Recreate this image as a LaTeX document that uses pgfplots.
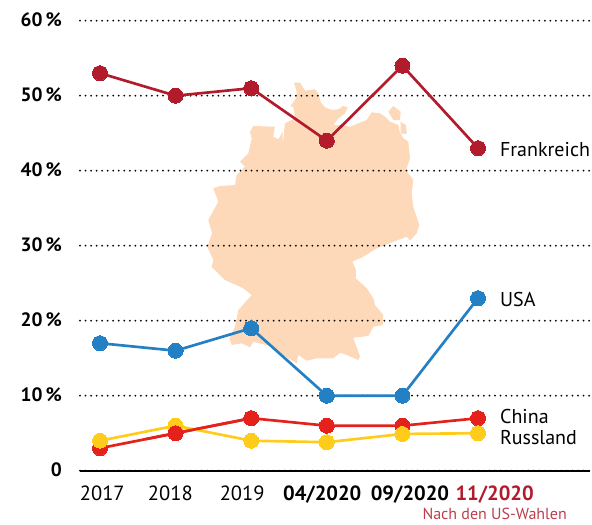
\documentclass[border=0pt]{standalone}
\usepackage{pgfplots}
\usepackage{pgfplotstable}
\usepackage{fontspec}
\setmainfont{PT Sans}
\pgfplotsset{compat=1.18}
\definecolor{frred}{HTML}{B11B2C}
\definecolor{usblue}{HTML}{2480C4}
\definecolor{cnred}{HTML}{E4211A}
\definecolor{ruyel}{HTML}{FFCC1C}
\definecolor{mapfill}{HTML}{FDD9BA}
% 1 px of the reference = 0.75pt
\pgfplotsset{
  frame/.style={
    at={(0,0)}, anchor=south west, scale only axis, width=382.5pt, height=337.5pt,
    xmin=-0.2646, xmax=6.4815, ymin=0, ymax=60,
  },
  series/.style={#1, line width=2pt, mark=*, mark size=5.6pt,
    mark options={fill=#1, draw=#1, line width=0pt, solid}},
}
% map outline, traced in pixels of the reference
\pgfplotstableread{
px py
294.0 82.7
300.0 82.7
305.0 90.7
315.0 89.3
318.3 94.0
321.0 102.7
325.0 107.3
331.7 110.0
338.3 109.3
343.3 106.0
347.7 107.3
345.0 113.3
338.3 118.3
333.3 125.0
340.0 125.0
350.0 126.7
366.7 120.0
371.7 112.3
380.0 113.3
385.0 116.7
390.0 121.7
398.3 125.0
400.0 133.3
406.7 134.0
406.0 125.0
400.7 121.7
400.7 133.3
403.3 138.3
408.3 141.7
410.0 158.3
406.0 170.0
413.3 180.0
411.7 193.3
413.3 206.7
419.3 225.0
416.7 233.3
410.0 240.7
406.7 236.7
393.3 241.7
376.7 248.3
363.3 256.7
352.3 261.7
356.0 270.0
355.7 278.3
366.7 288.3
373.3 298.3
375.0 305.0
383.3 315.0
382.7 325.0
373.3 326.7
368.3 336.0
353.3 337.7
360.0 356.7
358.3 360.0
346.7 355.0
340.0 352.7
333.3 358.3
316.7 358.3
306.7 360.7
298.3 355.0
296.7 363.3
286.7 357.3
273.3 346.7
253.3 341.7
250.0 347.3
241.7 343.3
231.7 345.0
229.3 338.3
235.0 326.7
238.3 310.0
251.7 295.0
243.3 288.3
225.0 280.0
211.7 266.7
213.3 260.0
207.3 246.7
212.0 233.3
208.3 220.0
218.3 201.7
213.3 188.3
220.0 186.0
235.0 185.0
236.7 175.0
245.0 166.7
240.0 161.7
248.3 153.3
251.7 138.3
250.0 131.7
253.3 126.0
275.0 126.7
273.3 136.7
278.3 139.3
282.7 131.7
282.7 145.0
285.0 123.3
290.0 120.7
295.0 118.3
293.3 106.7
290.0 106.7
296.0 98.3
296.7 91.7
294.0 82.7
}\germany
\pgfplotstableread{
px py
388.3 111.7
393.3 106.0
400.7 111.7
400.0 120.0
393.3 120.0
}\ruegen
\begin{document}
\begin{tikzpicture}
\path[use as bounding box] (-60pt,-39.98pt) rectangle (384pt,353.03pt);
\begin{axis}[frame, hide axis]
  \addplot[fill=mapfill, draw=none] table[x expr=(\thisrow{px}-100)/75.6, y expr=(470.7-\thisrow{py})/7.5] {\germany};
  \addplot[fill=mapfill, draw=none] table[x expr=(\thisrow{px}-100)/75.6, y expr=(470.7-\thisrow{py})/7.5] {\ruegen};
\end{axis}
\begin{axis}[frame, clip=false,
    axis x line=bottom, axis y line=left,
    x axis line style={-, line width=1.4pt},
    y axis line style={draw=none},
    major tick length=0pt,
    ymajorgrids,
    grid style={black, line width=1.5pt, line cap=round, dash pattern=on 0pt off 4.15pt},
    ytick={0,10,20,30,40,50,60},
    yticklabels={0,10\,\%,20\,\%,30\,\%,40\,\%,50\,\%,60\,\%},
    yticklabel style={font=\fontsize{14.5pt}{15pt}\selectfont\bfseries, xshift=-10pt, yshift=0.5pt},
    xtick={0.03,0.93,1.88,2.94,4.10,5.22},
    xticklabels={2017,2018,2019,\textbf{04/2020},\textbf{09/2020},\textcolor{frred}{\textbf{11/2020}}},
    xticklabel style={font=\fontsize{15.4pt}{16pt}\selectfont, yshift=-8pt},
  ]
  \addplot[series=frred] coordinates {(0,53) (1,50) (2,51) (3,44) (4,54) (5,43)};
  \addplot[series=usblue] coordinates {(0,17) (1,16) (2,19) (3,10) (4,10) (5,23)};
  \addplot[series=cnred] coordinates {(0,3) (1,5) (2,7) (3,6) (4,6) (5,7)};
  \addplot[series=ruyel] coordinates {(0,4) (1,6) (2,4) (3,3.8) (4,4.9) (5,5)};
  % China runs over Russland between 2017 and 2019
  \addplot[series=cnred, mark indices={2,3}] coordinates {(0.6,4.2) (1,5) (2,7)};
  \node[anchor=west, font=\fontsize{15pt}{16pt}\selectfont] at (axis cs:5.23,42.8) {Frankreich};
  \node[anchor=west, font=\fontsize{15pt}{16pt}\selectfont] at (axis cs:5.23,22.8) {USA};
  \node[anchor=west, font=\fontsize{15pt}{16pt}\selectfont] at (axis cs:5.23,7.2) {China};
  \node[anchor=west, font=\fontsize{15pt}{16pt}\selectfont] at (axis cs:5.23,4.4) {Russland};
  \node[inner sep=0pt, font=\fontsize{12pt}{13pt}\selectfont, text=frred!85] at (axis cs:5.22,-5.8) {Nach den US-Wahlen};
\end{axis}
\end{tikzpicture}
\end{document}
